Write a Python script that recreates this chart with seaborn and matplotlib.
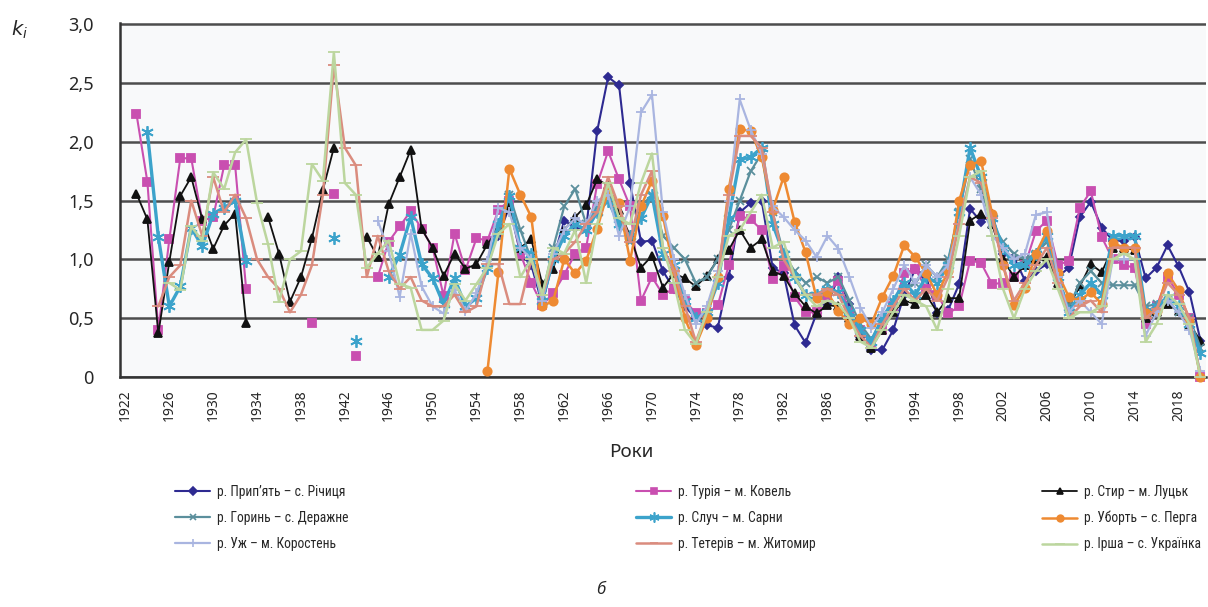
import numpy as np
import pandas as pd
import matplotlib
matplotlib.use("Agg")
import matplotlib.pyplot as plt
from matplotlib.lines import Line2D
import seaborn as sns

nan = np.nan
YEARS = list(range(1923, 2021))

# values, 1923..2020
PRYPIAT = [nan] * 33 + [
    1.20, 1.45, 1.05, 0.95,
    0.62, 1.00, 1.33, 1.27, 1.26, 2.09, 2.55, 2.48, 1.65, 1.15,
    1.16, 0.90, 0.75, 0.60, 0.50, 0.44, 0.42, 0.85, 1.40, 1.48,
    1.50, 0.93, 0.88, 0.44, 0.29, 0.54, 0.62, 0.85, 0.62, 0.34,
    0.23, 0.23, 0.40, 0.70, 0.92, 0.85, 0.54, 0.57, 0.79, 1.43,
    1.32, 1.39, 1.05, 1.02, 0.82, 0.90, 0.96, 0.85, 0.93, 1.36,
    1.49, 1.27, 1.16, 1.16, 1.19, 0.84, 0.93, 1.12, 0.94, 0.72,
    0.31]
TURIA = [
    2.24, 1.66, 0.40, 1.17, 1.86, 1.86, 1.33,
    1.36, 1.80, 1.80, 0.75, nan, nan, nan, nan, nan, 0.46,
    nan, 1.56, nan, 0.18, nan, 0.85, 1.15, 1.28, 1.41, 1.26,
    1.10, 0.69, 1.22, 0.91, 1.18, 1.16, 1.42, 1.50, 1.05, 0.80,
    0.61, 0.71, 0.87, 1.05, 1.10, 1.64, 1.92, 1.68, 1.45, 0.65,
    0.85, 0.70, 0.75, 0.65, 0.54, 0.54, 0.61, 0.95, 1.37, 1.34,
    1.25, 0.83, 0.94, 0.68, 0.55, 0.55, 0.70, 0.82, 0.55, 0.40,
    0.28, 0.40, 0.60, 0.88, 0.92, 0.75, 0.70, 0.54, 0.60, 0.99,
    0.97, 0.79, 0.80, 0.85, 0.95, 1.24, 1.33, 0.95, 0.99, 1.44,
    1.58, 1.19, 1.00, 0.95, 0.93, 0.45, 0.60, 0.85, 0.70, 0.50,
    0.00]
STYR = [
    1.56, 1.34, 0.37, 0.98, 1.54, 1.70, 1.34,
    1.09, 1.29, 1.39, 0.46, nan, 1.36, 1.05, 0.64, 0.85, 1.18,
    1.59, 1.95, nan, nan, 1.19, 1.02, 1.47, 1.70, 1.93, 1.26,
    1.10, 0.86, 1.05, 0.92, 0.96, 1.13, 1.26, 1.45, 1.10, 1.17,
    0.79, 0.92, 1.25, 1.36, 1.46, 1.68, 1.63, 1.42, 1.20, 0.93,
    1.03, 0.76, 0.88, 0.84, 0.77, 0.86, 1.00, 1.08, 1.25, 1.10,
    1.17, 0.90, 0.86, 0.71, 0.60, 0.54, 0.61, 0.60, 0.50, 0.35,
    0.25, 0.40, 0.55, 0.65, 0.62, 0.70, 0.55, 0.67, 0.67, 1.33,
    1.39, 1.30, 1.00, 0.85, 0.95, 1.00, 1.02, 0.80, 0.60, 0.77,
    0.96, 0.89, 1.10, 1.10, 1.08, 0.50, 0.55, 0.62, 0.56, 0.45,
    0.31]
HORYN = [nan] * 33 + [
    1.20, 1.55, 1.25, 1.00,
    0.70, 1.10, 1.45, 1.60, 1.30, 1.45, 1.55, 1.35, 1.15, 1.45,
    1.55, 1.20, 1.10, 1.00, 0.80, 0.85, 1.00, 1.25, 1.50, 1.75,
    1.90, 1.40, 1.05, 0.90, 0.80, 0.85, 0.80, 0.85, 0.65, 0.45,
    0.32, 0.50, 0.65, 0.75, 0.80, 0.95, 0.85, 1.00, 1.40, 1.85,
    1.60, 1.30, 1.15, 1.05, 1.00, 1.05, 1.15, 0.85, 0.60, 0.80,
    0.90, 0.80, 0.78, 0.78, 0.78, 0.60, 0.62, 0.65, 0.55, 0.50,
    0.25]
SLUCH = [
    nan, 2.08, 1.19, 0.60, 0.77, 1.27, 1.11,
    1.39, 1.44, 1.50, 0.99, nan, nan, nan, nan, nan, nan,
    nan, 1.18, nan, 0.31, nan, nan, 0.85, 1.04, 1.36, 0.96,
    0.84, 0.62, 0.84, 0.60, 0.67, 0.93, 1.30, 1.54, 1.10, 1.05,
    0.65, 1.00, 1.20, 1.30, 1.25, 1.40, 1.50, 1.30, 1.20, 1.35,
    1.55, 1.05, 0.95, 0.65, 0.50, 0.55, 0.80, 1.35, 1.85, 1.87,
    1.95, 1.30, 1.05, 0.85, 0.70, 0.70, 0.75, 0.72, 0.55, 0.40,
    0.30, 0.50, 0.65, 0.80, 0.70, 0.85, 0.80, 0.95, 1.40, 1.95,
    1.70, 1.35, 1.10, 0.95, 0.95, 1.05, 1.20, 0.85, 0.55, 0.70,
    0.80, 0.70, 1.20, 1.20, 1.20, 0.55, 0.60, 0.68, 0.60, 0.45,
    0.20]
UBORT = [nan] * 32 + [
    0.05, 0.89, 1.77, 1.55, 1.36,
    0.60, 0.65, 1.00, 0.88, 0.99, 1.26, 1.58, 1.48, 0.99, 1.45,
    1.67, 1.37, 0.90, 0.50, 0.27, 0.50, 0.85, 1.60, 2.11, 2.09,
    1.87, 1.42, 1.70, 1.32, 1.06, 0.67, 0.72, 0.56, 0.45, 0.50,
    0.45, 0.68, 0.86, 1.12, 1.02, 0.88, 0.70, 0.90, 1.50, 1.80,
    1.84, 1.39, 0.95, 0.61, 0.76, 1.05, 1.24, 0.88, 0.68, 0.65,
    0.72, 0.62, 1.14, 1.10, 1.10, 0.54, 0.56, 0.88, 0.74, 0.48,
    0.00]
UZH = [nan] * 22 + [
    1.33, 1.07, 0.68, 1.22, 0.77,
    0.60, 0.54, 0.74, 0.56, 0.71, 0.99, 1.44, 1.40, 1.10, 1.00,
    0.65, 1.05, 1.25, 1.35, 1.30, 1.50, 1.55, 1.20, 1.45, 2.25,
    2.40, 1.40, 1.00, 0.70, 0.45, 0.60, 0.90, 1.50, 2.36, 2.10,
    1.90, 1.45, 1.36, 1.25, 1.16, 1.02, 1.20, 1.09, 0.85, 0.59,
    0.42, 0.55, 0.75, 0.95, 0.80, 0.95, 0.85, 0.95, 1.30, 1.70,
    1.55, 1.20, 1.10, 1.00, 1.05, 1.38, 1.40, 0.85, 0.55, 0.65,
    0.55, 0.45, 1.00, 1.00, 1.00, 0.35, 0.55, 0.65, 0.55, 0.40,
    0.05]
TETERIV = [
    nan, nan, 0.60, 0.85, 0.95, 1.50, 1.20,
    1.70, 1.40, 1.55, 1.35, 1.00, 0.85, 0.75, 0.55, 0.70, 0.95,
    1.55, 2.65, 1.95, 1.80, 0.85, 1.20, 0.90, 0.75, 0.85, 0.65,
    0.60, 0.60, 0.70, 0.55, 0.60, 0.96, 0.96, 0.62, 0.62, 1.00,
    0.70, 1.00, 1.05, 1.15, 1.30, 1.40, 1.70, 1.45, 1.15, 1.55,
    1.75, 1.10, 0.90, 0.60, 0.30, 0.55, 0.85, 1.55, 2.05, 2.05,
    1.95, 1.40, 1.00, 0.85, 0.70, 0.70, 0.75, 0.70, 0.50, 0.35,
    0.25, 0.45, 0.60, 0.75, 0.65, 0.75, 0.65, 0.85, 1.30, 1.70,
    1.65, 1.35, 0.95, 0.65, 0.80, 0.95, 1.10, 0.80, 0.50, 0.60,
    0.65, 0.55, 1.10, 1.10, 1.10, 0.50, 0.58, 0.80, 0.70, 0.50,
    0.00]
IRSHA = [
    nan, nan, nan, 0.80, 0.74, 1.28, 1.16,
    1.74, 1.60, 1.91, 2.02, 1.48, 1.13, 0.64, 1.00, 1.07, 1.81,
    1.67, 2.76, 1.65, 1.55, 0.93, 1.05, 1.16, 0.79, 0.76, 0.40,
    0.40, 0.48, 0.79, 0.65, 0.79, 0.93, 1.22, 1.30, 0.85, 1.00,
    0.70, 1.10, 1.05, 1.25, 0.80, 1.30, 1.65, 1.35, 1.30, 1.65,
    1.90, 1.10, 0.80, 0.40, 0.28, 0.55, 0.85, 1.20, 1.25, 1.40,
    1.55, 1.10, 1.15, 0.85, 0.70, 0.60, 0.65, 0.62, 0.50, 0.30,
    0.25, 0.40, 0.55, 0.70, 0.65, 0.60, 0.40, 0.75, 1.20, 1.70,
    1.75, 1.20, 0.75, 0.50, 0.75, 0.90, 1.00, 0.75, 0.50, 0.55,
    0.55, 0.60, 1.00, 1.05, 1.00, 0.30, 0.45, 0.70, 0.62, 0.45,
    0.00]

LABELS = [
    "р. Прип’ять – с. Річиця", "р. Турія – м. Ковель", "р. Стир – м. Луцьк",
    "р. Горинь – с. Деражне", "р. Случ – м. Сарни", "р. Уборть – с. Перга",
    "р. Уж – м. Коростень", "р. Тетерів – м. Житомир", "р. Ірша – с. Українка",
]
VALUES = [PRYPIAT, TURIA, STYR, HORYN, SLUCH, UBORT, UZH, TETERIV, IRSHA]

Y_TICKS = [0, 0.5, 1.0, 1.5, 2.0, 2.5, 3.0]
Y_TICKLABELS = ["0", "0,5", "1,0", "1,5", "2,0", "2,5", "3,0"]
X_TICKS = list(range(1922, 2019, 4))

# colour, marker, marker size, line width
STYLE = [
    ("#2e2a91", "D", 4.5, 1.5),
    ("#c94fb0", "s", 6.0, 1.5),
    ("#111111", "^", 6.0, 1.3),
    ("#5b8f9c", "x", 6.0, 1.6),
    ("#3ca3cb", (6, 2, 0), 9.0, 2.4),
    ("#ee8a32", "o", 6.0, 1.8),
    ("#a9b5e0", "+", 7.0, 1.6),
    ("#da8c7e", "_", 8.0, 1.8),
    ("#bcd69e", "_", 9.0, 1.8),
]

# long table, one "segment" per unbroken run so gaps stay open
rows = []
for label, vals in zip(LABELS, VALUES):
    assert len(vals) == len(YEARS)
    seg = 0
    prev = False
    for yr, v in zip(YEARS, vals):
        ok = not np.isnan(v)
        if ok and not prev:
            seg += 1
        if ok:
            rows.append({"river": label, "year": yr, "k": v, "seg": seg})
        prev = ok
df = pd.DataFrame(rows)

sns.set_style("white")
plt.rcParams["font.family"] = ["Noto Sans", "DejaVu Sans"]

fig = plt.figure(figsize=(12.08, 6.07), dpi=100)
ax = fig.add_axes([0.0993, 0.379, 0.899, 0.583])
ax.set_facecolor("#f8f9fa")

handles = []
for label, (color, marker, ms, lw) in zip(LABELS, STYLE):
    sub = df[df["river"] == label]
    sns.lineplot(data=sub, x="year", y="k", units="seg", estimator=None,
                 color=color, marker=marker, markersize=ms, linewidth=lw,
                 markeredgecolor=color, markeredgewidth=1.3,
                 ax=ax, legend=False, clip_on=False, zorder=3)
    handles.append(Line2D([], [], color=color, marker=marker, markersize=ms * 0.8,
                          lw=lw, markeredgecolor=color, markeredgewidth=1.2))

ax.set_xlim(1921.5, 2020.5)
ax.set_ylim(0, 3.01)
ax.set_yticks(Y_TICKS)
ax.set_yticklabels(Y_TICKLABELS, fontsize=13)
ax.set_xticks(X_TICKS)
ax.set_xticklabels([str(y) for y in X_TICKS], rotation=90, fontsize=10)
ax.set_xticks(np.arange(1921.5, 2021, 1), minor=True)
ax.tick_params(axis="x", which="major", length=0, pad=9)
ax.tick_params(axis="x", which="minor", length=7, width=1.2, color="#333333")
ax.tick_params(axis="y", length=8, width=1.6, color="#333333", pad=11)
ax.yaxis.grid(True, color="#4d4d4d", linewidth=1.8)
ax.set_axisbelow(True)
ax.set_xlabel("")
ax.set_ylabel("")
for side in ["top", "right"]:
    ax.spines[side].set_visible(False)
for side in ["left", "bottom"]:
    ax.spines[side].set_color("#333333")
    ax.spines[side].set_linewidth(1.8)

fig.text(0.523, 0.2555, "Роки", fontsize=13.5, ha="center", va="center")
fig.text(0.009, 0.951, r"$k_i$", fontsize=14, ha="left", va="center")
fig.text(0.497, 0.028, "б", fontsize=12, style="italic", ha="center", va="center")

# legend: three columns, filled row by row
col_x = [175, 636, 1042]
leg_font = {"family": ["Noto Sans Condensed", "Roboto Condensed", "Liberation Sans Narrow",
                       "Roboto", "DejaVu Sans"], "size": 9.8}
for c in range(3):
    fig.legend(handles=[handles[c], handles[c + 3], handles[c + 6]],
               labels=[LABELS[c], LABELS[c + 3], LABELS[c + 6]],
               loc="upper left", bbox_to_anchor=(col_x[c] / 1208, 1 - 485 / 607),
               frameon=False, handlelength=2.6, handletextpad=0.5,
               labelspacing=0.88, borderpad=0, borderaxespad=0, prop=leg_font)

fig.savefig("out.png", dpi=100)
